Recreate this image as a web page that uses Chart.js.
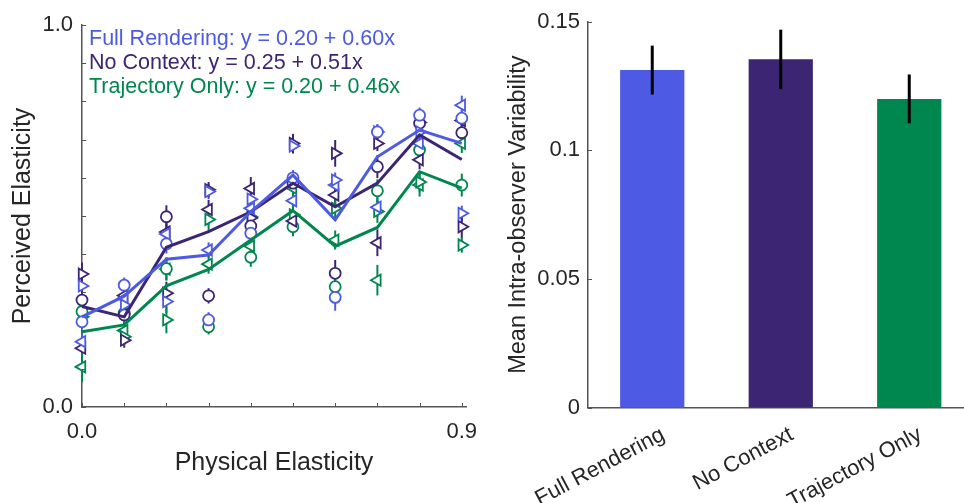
<!DOCTYPE html>
<html>
<head>
<meta charset="utf-8">
<script src="https://cdn.jsdelivr.net/npm/chart.js@4.4.1/dist/chart.umd.min.js"></script>
<style>
  html, body { margin: 0; padding: 0; background: #fff; overflow: hidden; }
  #wrap { position: relative; width: 964px; height: 503px; overflow: hidden; }
  #left { position: absolute; left: 0; top: 0; }
  #right { position: absolute; left: 490px; top: 0; }
</style>
</head>
<body>
<div id="wrap">
  <canvas id="left" width="490" height="503"></canvas>
  <canvas id="right" width="500" height="503"></canvas>
</div>
<script>
// x axis of the left panel
var elasticity = [0, 0.1, 0.2, 0.3, 0.4, 0.5, 0.6, 0.7, 0.8, 0.9];
var elasticityTickLabels = ['0.0', '', '', '', '', '', '', '', '', '0.9'];
var perceivedTicks = [0, 0.1, 0.2, 0.3, 0.4, 0.5, 0.6, 0.7, 0.8, 0.9, 1.0];
var perceivedTickLabels = ['0.0', '', '', '', '', '', '', '', '', '', '1.0'];

var conditions = ['Full Rendering', 'No Context', 'Trajectory Only'];
var fitLabels = [
    'Full Rendering: y = 0.20 + 0.60x',
    'No Context: y = 0.25 + 0.51x',
    'Trajectory Only: y = 0.20 + 0.46x'
];
var colors = ['#4d5ae3', '#3c2573', '#00874f'];

// mean per condition (lines)
var fullMean = [0.236, 0.290, 0.387, 0.398, 0.511, 0.607, 0.490, 0.655, 0.725, 0.690];
var noContextMean = [0.263, 0.236, 0.418, 0.459, 0.511, 0.586, 0.524, 0.586, 0.712, 0.648];
var trajectoryMean = [0.197, 0.215, 0.317, 0.360, 0.437, 0.514, 0.421, 0.470, 0.616, 0.573];

// observers: circle, right triangle, left triangle
var fullCircle = [0.223, 0.319, 0.427, 0.228, 0.455, 0.600, 0.287, 0.720, 0.764, 0.756];
var fullRight = [0.317, 0.267, 0.276, 0.564, 0.544, 0.683, 0.594, 0.720, 0.720, 0.507];
var fullLeft = [0.171, 0.284, 0.453, 0.411, 0.520, 0.540, 0.581, 0.523, 0.690, 0.790];
var noContextCircle = [0.280, 0.241, 0.498, 0.291, 0.474, 0.586, 0.350, 0.629, 0.743, 0.718];
var noContextRight = [0.348, 0.175, 0.298, 0.569, 0.495, 0.690, 0.664, 0.690, 0.745, 0.472];
var noContextLeft = [0.154, 0.292, 0.458, 0.517, 0.572, 0.487, 0.555, 0.430, 0.647, 0.750];
var trajectoryCircle = [0.250, 0.246, 0.362, 0.210, 0.392, 0.472, 0.315, 0.566, 0.673, 0.581];
var trajectoryRight = [0.236, 0.184, 0.228, 0.491, 0.498, 0.503, 0.520, 0.512, 0.589, 0.424];
var trajectoryLeft = [0.105, 0.200, 0.361, 0.374, 0.421, 0.573, 0.437, 0.332, 0.581, 0.690];

// error bar half lengths
var fullCircleErr = [0.02, 0.02, 0.025, 0.02, 0.02, 0.02, 0.035, 0.02, 0.02, 0.02];
var fullRightErr = [0.02, 0.025, 0.03, 0.02, 0.02, 0.02, 0.02, 0.02, 0.02, 0.02];
var fullLeftErr = [0.025, 0.02, 0.025, 0.02, 0.025, 0.02, 0.025, 0.025, 0.025, 0.025];
var noContextCircleErr = [0.025, 0.025, 0.03, 0.02, 0.025, 0.025, 0.035, 0.03, 0.025, 0.025];
var noContextRightErr = [0.03, 0.02, 0.03, 0.02, 0.02, 0.025, 0.035, 0.02, 0.02, 0.03];
var noContextLeftErr = [0.025, 0.02, 0.025, 0.025, 0.03, 0.025, 0.025, 0.035, 0.025, 0.02];
var trajectoryCircleErr = [0.02, 0.02, 0.03, 0.02, 0.025, 0.025, 0.025, 0.03, 0.025, 0.03];
var trajectoryRightErr = [0.02, 0.025, 0.035, 0.03, 0.025, 0.025, 0.025, 0.03, 0.025, 0.02];
var trajectoryLeftErr = [0.04, 0.025, 0.03, 0.025, 0.025, 0.03, 0.025, 0.04, 0.03, 0.025];

// right panel
var variability = [0.1312, 0.1354, 0.1200];
var variabilityErr = [0.0095, 0.0115, 0.0095];
var variabilityTicks = [0, 0.05, 0.1, 0.15];
var variabilityTickLabels = ['0', '0.05', '0.1', '0.15'];

var axisColor = '#555555';
var textColor = '#262626';
var fontFamily = '"Liberation Sans", Arial, Helvetica, sans-serif';

// matlab style ticks pointing into the plot
var inwardTicks = {
    id: 'inwardTicks',
    afterDraw: function (chart, args, opts) {
        var ctx = chart.ctx;
        var area = chart.chartArea;
        ctx.save();
        ctx.strokeStyle = axisColor;
        ctx.lineWidth = 1;
        (opts.axes || []).forEach(function (id) {
            var scale = chart.scales[id];
            scale.ticks.forEach(function (t) {
                var p = Math.round(scale.getPixelForValue(t.value)) + 0.5;
                ctx.beginPath();
                if (scale.isHorizontal()) {
                    ctx.moveTo(p, area.bottom);
                    ctx.lineTo(p, area.bottom - opts.length);
                } else {
                    ctx.moveTo(area.left, p);
                    ctx.lineTo(area.left + opts.length, p);
                }
                ctx.stroke();
            });
        });
        ctx.restore();
    }
};

function drawErrors(chart) {
    var ctx = chart.ctx;
    var yScale = chart.scales.y;
    chart.data.datasets.forEach(function (ds, i) {
        if (!ds.errors) return;
        var meta = chart.getDatasetMeta(i);
        ctx.save();
        ctx.strokeStyle = ds.errorColor || ds.borderColor;
        ctx.lineWidth = ds.errorWidth || 2;
        meta.data.forEach(function (el, j) {
            var d = ds.data[j];
            var v = (typeof d === 'object') ? d.y : d;
            ctx.beginPath();
            ctx.moveTo(el.x, yScale.getPixelForValue(v + ds.errors[j]));
            ctx.lineTo(el.x, yScale.getPixelForValue(v - ds.errors[j]));
            ctx.stroke();
        });
        ctx.restore();
    });
}

var errorBars = {
    id: 'errorBars',
    beforeDatasetsDraw: function (chart, args, opts) { if (!opts.onTop) drawErrors(chart); },
    afterDatasetsDraw: function (chart, args, opts) { if (opts.onTop) drawErrors(chart); }
};

var fitLegend = {
    id: 'fitLegend',
    afterDraw: function (chart) {
        var ctx = chart.ctx;
        var area = chart.chartArea;
        ctx.save();
        ctx.font = '21.5px ' + fontFamily;
        ctx.textBaseline = 'alphabetic';
        fitLabels.forEach(function (txt, i) {
            ctx.fillStyle = colors[i];
            ctx.fillText(txt, area.left + 7, area.top + 20 + i * 24);
        });
        ctx.restore();
    }
};

function pts(values) {
    return elasticity.map(function (x, i) { return { x: x, y: values[i] }; });
}

function meanLine(values, color) {
    return {
        data: pts(values), showLine: true, borderColor: color, borderWidth: 3,
        pointRadius: 0, order: 0, clip: false
    };
}

function observer(values, errs, color, style, rot, r) {
    return {
        data: pts(values), errors: errs, showLine: false, borderColor: color,
        backgroundColor: '#ffffff', pointBackgroundColor: '#ffffff', pointBorderColor: color,
        pointStyle: style, pointRotation: rot, pointRadius: r, pointBorderWidth: 1.8,
        order: 1, clip: false
    };
}

function tickFont(size) { return { size: size, family: fontFamily }; }

new Chart(document.getElementById('left').getContext('2d'), {
    type: 'scatter',
    data: {
        datasets: [
            meanLine(fullMean, colors[0]),
            meanLine(noContextMean, colors[1]),
            meanLine(trajectoryMean, colors[2]),
            observer(fullCircle, fullCircleErr, colors[0], 'circle', 0, 5.5),
            observer(fullRight, fullRightErr, colors[0], 'triangle', 90, 6.5),
            observer(fullLeft, fullLeftErr, colors[0], 'triangle', -90, 6.5),
            observer(noContextCircle, noContextCircleErr, colors[1], 'circle', 0, 5.5),
            observer(noContextRight, noContextRightErr, colors[1], 'triangle', 90, 6.5),
            observer(noContextLeft, noContextLeftErr, colors[1], 'triangle', -90, 6.5),
            observer(trajectoryCircle, trajectoryCircleErr, colors[2], 'circle', 0, 5.5),
            observer(trajectoryRight, trajectoryRightErr, colors[2], 'triangle', 90, 6.5),
            observer(trajectoryLeft, trajectoryLeftErr, colors[2], 'triangle', -90, 6.5)
        ]
    },
    options: {
        responsive: false,
        animation: false,
        layout: { padding: { left: 0, top: 25, right: 24, bottom: 0 } },
        plugins: {
            legend: { display: false },
            tooltip: { enabled: false },
            inwardTicks: { axes: ['x', 'y'], length: 4 },
            errorBars: { onTop: false }
        },
        scales: {
            x: {
                type: 'linear', min: 0, max: 0.91,
                afterBuildTicks: function (s) { s.ticks = elasticity.map(function (v) { return { value: v }; }); },
                afterFit: function (s) { s.height = 96; },
                grid: { display: false, drawTicks: false },
                border: { display: true, color: axisColor, width: 1.5 },
                ticks: {
                    autoSkip: false, maxRotation: 0, padding: 12, color: textColor, font: tickFont(22),
                    callback: function (v, i) { return elasticityTickLabels[i]; }
                },
                title: {
                    display: true, text: 'Physical Elasticity', color: textColor,
                    font: tickFont(25), padding: { top: 0, bottom: 25 }
                }
            },
            y: {
                type: 'linear', min: 0, max: 1,
                afterBuildTicks: function (s) { s.ticks = perceivedTicks.map(function (v) { return { value: v }; }); },
                afterFit: function (s) { s.width = 82; },
                grid: { display: false, drawTicks: false },
                border: { display: true, color: axisColor, width: 1.5 },
                ticks: {
                    autoSkip: false, padding: 9, color: textColor, font: tickFont(22),
                    callback: function (v, i) { return perceivedTickLabels[i]; }
                },
                title: {
                    display: true, text: 'Perceived Elasticity', color: textColor,
                    font: tickFont(25), padding: { top: 8, bottom: 0 }
                }
            }
        }
    },
    plugins: [inwardTicks, errorBars, fitLegend]
});

new Chart(document.getElementById('right').getContext('2d'), {
    type: 'bar',
    data: {
        labels: conditions,
        datasets: [{
            data: variability, errors: variabilityErr, errorColor: '#000000', errorWidth: 3,
            backgroundColor: colors, borderWidth: 0, barPercentage: 0.5, categoryPercentage: 1
        }]
    },
    options: {
        responsive: false,
        animation: false,
        layout: { padding: { left: 0, top: 21.7, right: 16.5, bottom: 0 } },
        plugins: {
            legend: { display: false },
            tooltip: { enabled: false },
            inwardTicks: { axes: ['y'], length: 4 },
            errorBars: { onTop: true }
        },
        scales: {
            x: {
                afterFit: function (s) { s.height = 95.3; },
                grid: { display: false, drawTicks: false },
                border: { display: true, color: axisColor, width: 1.5 },
                ticks: {
                    minRotation: 28, maxRotation: 28, padding: 14, labelOffset: 11,
                    color: textColor, font: tickFont(22)
                }
            },
            y: {
                min: 0, max: 0.15,
                afterBuildTicks: function (s) { s.ticks = variabilityTicks.map(function (v) { return { value: v }; }); },
                afterFit: function (s) { s.width = 98; },
                grid: { display: false, drawTicks: false },
                border: { display: true, color: axisColor, width: 1.5 },
                ticks: {
                    autoSkip: false, padding: 8, color: textColor, font: tickFont(22),
                    callback: function (v, i) { return variabilityTickLabels[i]; }
                },
                title: {
                    display: true, text: 'Mean Intra-observer Variability', color: textColor,
                    font: tickFont(23.5), padding: { top: 14, bottom: 0 }
                }
            }
        }
    },
    plugins: [inwardTicks, errorBars]
});
</script>
</body>
</html>
